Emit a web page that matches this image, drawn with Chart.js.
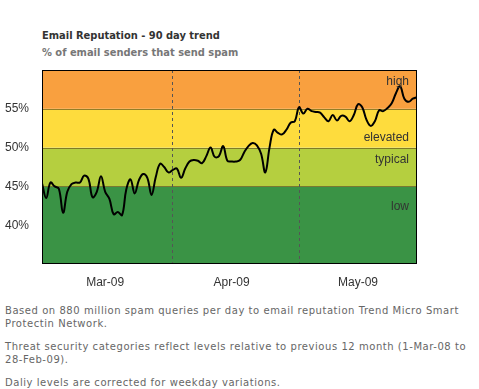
<!DOCTYPE html>
<html>
<head>
<meta charset="utf-8">
<script src="https://cdn.jsdelivr.net/npm/chart.js@4"></script>
<style>
  body { margin: 0; background: #fff; width: 479px; height: 389px; overflow: hidden; position: relative; }
  #wrap { position: absolute; left: 0; top: 0; width: 479px; height: 300px; }
  .title { position: absolute; left: 42px; font-family: 'DejaVu Sans Condensed', 'DejaVu Sans', sans-serif; font-weight: bold; font-size: 11px; line-height: 11px; white-space: nowrap; }
  #t1 { top: 30px; color: #333; }
  #t2 { top: 47px; color: #777; }
  #notes { position: absolute; left: 5px; top: 304px; width: 472px; font-family: 'DejaVu Sans', sans-serif; font-size: 10px; letter-spacing: 0.55px; line-height: 13px; color: #666; }
  #notes p { margin: 0 0 10px 0; }
  .nw { white-space: nowrap; }
</style>
</head>
<body>
<div class="title" id="t1">Email Reputation - 90 day trend</div>
<div class="title" id="t2">% of email senders that send spam</div>
<div id="wrap"><canvas id="c" width="479" height="300"></canvas></div>
<div id="notes">
  <p>Based on 880 million spam queries per day to email reputation Trend Micro Smart Protectin Network.</p>
  <p>Threat security categories reflect levels relative to previous 12 month (<span class="nw">1-Mar-08</span> to <span class="nw">28-Feb-09).</span></p>
  <p>Daliy levels are corrected for weekday variations.</p>
</div>
<script>
// daily % of senders that send spam, 1-Mar-09 .. 29-May-09
const spamPct = [
  45.4, 43.5, 45.5, 45.0, 44.7, 41.6, 44.3, 45.3, 45.5, 45.5,
  46.4, 46.0, 43.6, 44.3, 46.3, 44.3, 43.4, 41.4, 41.7, 41.3,
  44.6, 45.9, 44.1, 45.8, 46.6, 46.1, 43.9, 46.2, 47.9, 47.5,
  46.8, 47.1, 47.3, 46.1, 47.3, 48.2, 48.4, 48.3, 48.0, 48.9,
  50.0, 48.8, 48.9, 50.2, 48.3, 48.2, 48.2, 48.4, 49.4, 50.2,
  50.6, 50.3, 49.2, 46.8, 50.0, 52.3, 51.9, 51.7, 52.3, 53.2,
  53.4, 55.2, 54.4, 55.0, 54.7, 54.6, 54.5, 53.9, 53.4, 54.2,
  53.5, 54.1, 54.0, 53.4, 54.2, 55.6, 55.2, 53.6, 52.8, 53.4,
  54.8, 54.7, 55.1, 55.7, 57.0, 57.9, 56.3, 55.9, 56.3, 56.5
];
const monthLabels = ['Mar-09', 'Apr-09', 'May-09'];
const monthMidDays = [15, 45, 75];
const monthStartDays = [31, 61];
const yTicks = [40, 45, 50, 55];
const bandNames = ['low', 'typical', 'elevated', 'high'];
const bandEdges = [35, 45, 50, 55, 60];
const bandColors = ['#3a9345', '#b5cf3f', '#fedc3d', '#f9a03f'];

const bandsPlugin = {
  id: 'bands',
  beforeDraw(chart) {
    const { ctx, chartArea: a, scales: { y } } = chart;
    ctx.save();
    bandColors.forEach((col, i) => {
      const top = y.getPixelForValue(bandEdges[i + 1]);
      const bot = y.getPixelForValue(bandEdges[i]);
      ctx.fillStyle = col;
      ctx.fillRect(a.left, top, a.right - a.left, bot - top);
    });
    ctx.strokeStyle = 'rgba(110,95,30,0.75)';
    ctx.lineWidth = 1;
    bandEdges.slice(1, -1).forEach(v => {
      const py = Math.round(y.getPixelForValue(v)) + 0.5;
      ctx.beginPath();
      ctx.moveTo(a.left, py);
      ctx.lineTo(a.right, py);
      ctx.stroke();
    });
    ctx.restore();
  },
  afterDraw(chart) {
    const { ctx, chartArea: a, scales: { y } } = chart;
    ctx.save();
    ctx.strokeStyle = '#000';
    ctx.lineWidth = 1;
    ctx.strokeRect(Math.round(a.left) + 0.5, Math.round(a.top) + 0.5, Math.round(a.right - a.left) - 1, Math.round(a.bottom - a.top) - 1);
    ctx.font = '12px "Liberation Sans", Arial, sans-serif';
    ctx.fillStyle = '#333';
    ctx.textAlign = 'right';
    ctx.textBaseline = 'middle';
    const x = a.right - 8;
    // low: in the green band, high: top of orange, elevated: bottom of yellow, typical: top of light green
    ctx.fillText(bandNames[0], x, y.getPixelForValue(bandEdges[1]) + 20);
    ctx.fillText(bandNames[1], x, y.getPixelForValue(bandEdges[2]) + 12);
    ctx.fillText(bandNames[2], x, y.getPixelForValue(bandEdges[2]) - 10);
    ctx.fillText(bandNames[3], x, y.getPixelForValue(bandEdges[4]) + 12);
    ctx.restore();
  }
};

new Chart(document.getElementById('c'), {
  type: 'line',
  data: {
    datasets: [{
      data: spamPct.map((v, i) => ({ x: i, y: v })),
      borderColor: '#000',
      borderWidth: 2,
      pointRadius: 0,
      tension: 0.4,
      fill: false
    }]
  },
  options: {
    responsive: false,
    animation: false,
    layout: { padding: { top: 70, right: 62, left: 0, bottom: 0 } },
    plugins: { legend: { display: false }, tooltip: { enabled: false } },
    scales: {
      x: {
        type: 'linear', min: 0, max: spamPct.length - 1,
        afterBuildTicks: s => { s.ticks = [...monthMidDays, ...monthStartDays].sort((a, b) => a - b).map(v => ({ value: v })); },
        afterFit: s => { s.height = 36; },
        border: { display: false, dash: [3, 3] },
        grid: { drawTicks: false, lineWidth: 1, color: c => monthStartDays.includes(c.tick && c.tick.value) ? '#555' : 'rgba(0,0,0,0)' },
        ticks: {
          padding: 11, autoSkip: false, maxRotation: 0, color: '#333',
          font: { family: '"Liberation Sans", Arial, sans-serif', size: 12 },
          callback: v => { const k = monthMidDays.indexOf(v); return k >= 0 ? monthLabels[k] : ''; }
        }
      },
      y: {
        min: bandEdges[0], max: bandEdges[bandEdges.length - 1],
        afterBuildTicks: s => { s.ticks = yTicks.map(v => ({ value: v })); },
        afterFit: s => { s.width = 42; },
        border: { display: false },
        grid: { display: false, drawTicks: false },
        ticks: {
          padding: 13, color: '#333',
          font: { family: '"Liberation Sans", Arial, sans-serif', size: 12 },
          callback: v => v + '%'
        }
      }
    }
  },
  plugins: [bandsPlugin]
});
</script>
</body>
</html>
